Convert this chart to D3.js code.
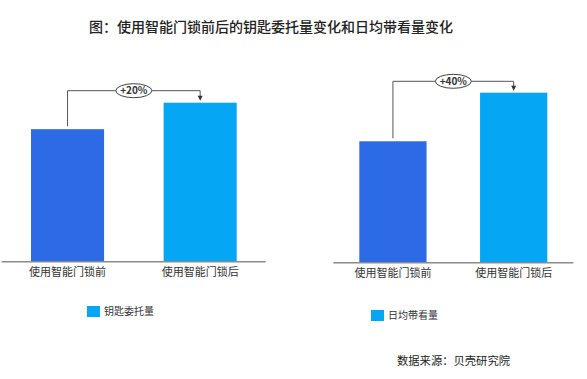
<!DOCTYPE html>
<html>
<head>
<meta charset="utf-8">
<script src="https://cdn.jsdelivr.net/npm/d3@7"></script>
<style>
  body { margin: 0; background: #fff; }
  text { font-family: "Noto Sans CJK SC", "Noto Sans", sans-serif; }
</style>
</head>
<body>
<svg id="chart" width="587" height="379"></svg>
<script>
// Data
const categories = ['使用智能门锁前', '使用智能门锁后'];
const keyValues = [100, 120];     // 钥匙委托量 (index)
const viewValues = [100, 140];    // 日均带看量 (index)
const changeLabels = ['+20%', '+40%'];
const legendLabels = ['钥匙委托量', '日均带看量'];

const barColors = ['#2D6BE6', '#05A7F5'];
const legendColor = '#05A7F5';

const svg = d3.select('#chart');

svg.append('text')
    .attr('x', 271).attr('y', 32)
    .attr('text-anchor', 'middle')
    .style('font-size', '14px')
    .style('font-weight', '500')
    .attr('fill', '#222')
    .text('图：使用智能门锁前后的钥匙委托量变化和日均带看量变化');

// panel layout
const panels = [
    { values: keyValues, label: changeLabels[0], legend: legendLabels[0],
      base: 261.7, top: 102.7, domainMax: 120, bx: [31, 236.7], inner: 0.449,
      axis: [1.7, 265.7], ann: 90.7, legendPos: [87, 306] },
    { values: viewValues, label: changeLabels[1], legend: legendLabels[1],
      base: 262.7, top: 92.7, domainMax: 140, bx: [359.3, 547.3], inner: 0.443,
      axis: [333.3, 573.3], ann: 81.3, legendPos: [371, 310] }
];

panels.forEach(p => {
    const x = d3.scaleBand().domain(categories).range(p.bx).paddingInner(p.inner).paddingOuter(0);
    const y = d3.scaleLinear().domain([0, p.domainMax]).range([p.base, p.top]);
    const g = svg.append('g');

    g.selectAll('rect.bar')
        .data(p.values)
        .enter()
        .append('rect')
        .attr('class', 'bar')
        .attr('x', (d, i) => x(categories[i]))
        .attr('y', d => y(d))
        .attr('width', x.bandwidth())
        .attr('height', d => y(0) - y(d))
        .attr('fill', (d, i) => barColors[i]);

    // baseline
    g.append('line')
        .attr('x1', p.axis[0]).attr('x2', p.axis[1])
        .attr('y1', y(0)).attr('y2', y(0))
        .attr('stroke', '#8a8a8a').attr('stroke-width', 1.5);

    // category labels
    g.selectAll('text.cat')
        .data(categories)
        .enter()
        .append('text')
        .attr('class', 'cat')
        .attr('x', d => x(d) + x.bandwidth() / 2)
        .attr('y', y(0) + 14)
        .attr('text-anchor', 'middle')
        .style('font-size', '11px')
        .attr('fill', '#333')
        .text(d => d);

    // change annotation
    const cx0 = x(categories[0]) + x.bandwidth() / 2;
    const cx1 = x(categories[1]) + x.bandwidth() / 2;
    const annY = p.ann;
    g.append('path')
        .attr('d', `M${cx0},${y(p.values[0]) - 3} V${annY} H${cx1} V${y(p.values[1]) - 6}`)
        .attr('fill', 'none')
        .attr('stroke', '#555')
        .attr('stroke-width', 1);
    const ay = y(p.values[1]) - 2;
    g.append('path')
        .attr('d', `M${cx1 - 2.5},${ay - 5} L${cx1 + 2.5},${ay - 5} L${cx1},${ay} Z`)
        .attr('fill', '#333');

    const ex = (cx0 + cx1) / 2;
    g.append('ellipse')
        .attr('cx', ex).attr('cy', annY)
        .attr('rx', 18).attr('ry', 7)
        .attr('fill', '#fff')
        .attr('stroke', '#444')
        .attr('stroke-width', 1);
    g.append('text')
        .attr('x', ex).attr('y', annY + 3.5)
        .attr('text-anchor', 'middle')
        .style('font-size', '10px')
        .style('font-weight', 'bold')
        .attr('fill', '#333')
        .text(p.label);

    // legend
    const lg = g.append('g').attr('transform', `translate(${p.legendPos[0]},${p.legendPos[1]})`);
    lg.append('rect')
        .attr('width', 13).attr('height', 11)
        .attr('fill', legendColor);
    lg.append('text')
        .attr('x', 17).attr('y', 9)
        .style('font-size', '10px')
        .attr('fill', '#333')
        .text(p.legend);
});

svg.append('text')
    .attr('x', 510).attr('y', 365)
    .attr('text-anchor', 'end')
    .style('font-size', '11.3px')
    .attr('fill', '#222')
    .text('数据来源：贝壳研究院');
</script>
</body>
</html>
